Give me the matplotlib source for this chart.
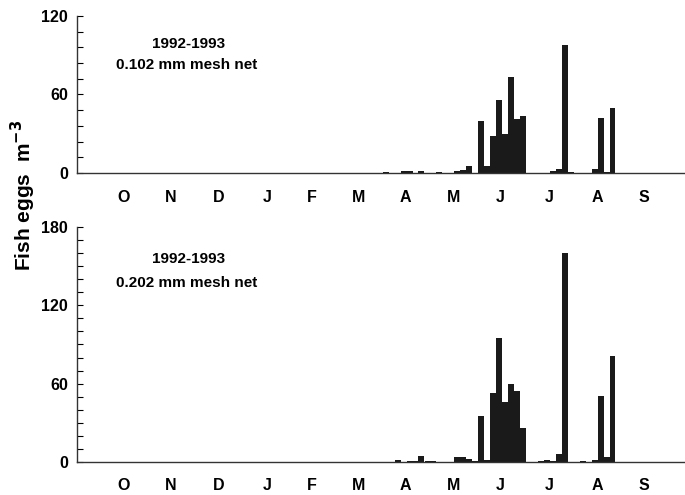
import matplotlib.pyplot as plt
from matplotlib.ticker import MultipleLocator

plt.rcParams['font.family'] = ['Liberation Sans', 'DejaVu Sans']
plt.rcParams['font.weight'] = 'bold'

# sampling dates, days after 1 Oct 1992 (roughly twice a week, Apr-Aug 1993)
sample_day = [183.2, 187.1, 190.9, 194.7, 198.6, 202.4, 206.2, 210.1, 213.9, 217.7,
              221.6, 225.4, 229.3, 233.1, 236.9, 240.8, 244.6, 248.4, 252.3, 256.1,
              259.9, 263.8, 267.6, 271.5, 275.3, 279.1, 283.0, 286.8, 290.6, 294.5,
              298.3, 302.1, 306.0, 309.8, 313.7, 317.5, 321.3, 325.2, 329.0]

# fish eggs per m3, 0.102 mm mesh net
eggs_102 = [0.5, 0, 0, 1.3, 1.3, 0, 1.2, 0, 0, 0.5,
            0, 0, 1.5, 2.5, 5.6, 0.3, 40, 5, 28.5, 55.5,
            30, 73, 41, 43.5, 0, 0, 0, 0, 1.8, 3.2,
            98, 0.5, 0, 0, 0, 3, 42, 1, 50]

# fish eggs per m3, 0.202 mm mesh net
eggs_202 = [0, 0, 1.5, 0, 1, 1, 4.6, 0.5, 0.5, 0,
            0, 0, 3.6, 3.6, 2.3, 0.7, 35, 1.8, 52.5, 95,
            46, 59.5, 54.5, 26.3, 0, 0, 1, 1.3, 0.8, 6.4,
            160, 0, 0, 0.5, 0, 1.2, 50.5, 3.8, 81.5]

# mid-month positions and labels (Oct 1992 - Sep 1993)
month_day = [15, 45, 76, 107, 136, 166, 196, 227, 257, 288, 319, 349]
month_lab = ['O', 'N', 'D', 'J', 'F', 'M', 'A', 'M', 'J', 'J', 'A', 'S']

fig = plt.figure(figsize=(6.85, 4.95), dpi=100)
ax1 = fig.add_axes([0.1124, 0.6505, 0.8876, 0.3172])
ax2 = fig.add_axes([0.1124, 0.0667, 0.8876, 0.4747])

panels = [
    (ax1, eggs_102, 120, 60, 12, '0.102 mm mesh net', 0.822, 0.685, 17),
    (ax2, eggs_202, 180, 60, 10, '0.202 mm mesh net', 0.862, 0.760, 16),
]

for ax, vals, ymax, major, minor, net, y1, y2, pad in panels:
    ax.bar(sample_day, vals, width=3.84, color='#1a1a1a', linewidth=0)
    ax.set_xlim(-15.2, 375.6)
    ax.set_ylim(0, ymax)
    ax.yaxis.set_major_locator(MultipleLocator(major))
    ax.yaxis.set_minor_locator(MultipleLocator(minor))
    ax.set_xticks(month_day)
    ax.set_xticklabels(month_lab, fontsize=11.5, fontweight='bold')
    ax.tick_params(axis='x', length=0, pad=pad * 0.72)
    ax.tick_params(axis='y', which='both', direction='in', length=4, width=0.8,
                   labelsize=11.5, pad=6.5)
    for lab in ax.get_yticklabels():
        lab.set_fontweight('bold')
    for s in ['top', 'right']:
        ax.spines[s].set_visible(False)
    for s in ['left', 'bottom']:
        ax.spines[s].set_color('#333333')
        ax.spines[s].set_linewidth(1.0)
    ax.text(0.183, y1, '1992-1993', transform=ax.transAxes, ha='center', va='center',
            fontsize=11, fontweight='bold')
    ax.text(0.180, y2, net, transform=ax.transAxes, ha='center', va='center',
            fontsize=11, fontweight='bold')

fig.text(0.034, 0.606, r'Fish eggs  m$^{-3}$', rotation=90, ha='center', va='center',
         fontsize=15, fontweight='bold')

fig.savefig('out.png', dpi=100)
